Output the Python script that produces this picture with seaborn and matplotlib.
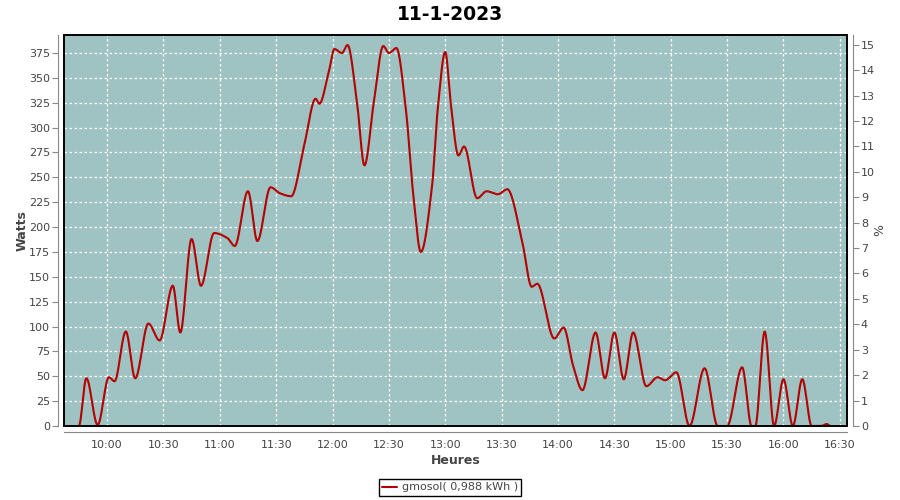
import numpy as np
import pandas as pd
import seaborn as sns
import matplotlib.pyplot as plt
from matplotlib.patches import Rectangle

# relevés (heure, puissance en W)
heures = ['09:45', '09:49', '09:55', '10:01', '10:04', '10:10', '10:15', '10:22', '10:28',
          '10:35', '10:39', '10:45', '10:50', '10:57', '11:04', '11:08', '11:15', '11:20',
          '11:27', '11:32', '11:38', '11:45', '11:51', '11:53', '11:58', '12:01', '12:05',
          '12:08', '12:13', '12:17', '12:22', '12:27', '12:30', '12:34', '12:39', '12:43',
          '12:47', '12:53', '12:56', '13:00', '13:03', '13:07', '13:10', '13:17', '13:22',
          '13:28', '13:33', '13:41', '13:46', '13:49', '13:58', '14:03', '14:08',
          '14:13', '14:20', '14:25', '14:30', '14:35', '14:40', '14:47', '14:53', '14:57',
          '15:03', '15:10', '15:18', '15:25', '15:30', '15:38', '15:43', '15:45', '15:50',
          '15:55', '16:00', '16:05', '16:10', '16:15', '16:20', '16:23', '16:25']
watts = [0, 48, 1, 49, 45, 95, 48, 103, 86,
         141, 94, 188, 141, 194, 189, 181, 236, 186,
         240, 234, 231, 283, 329, 324, 356, 379, 375,
         383, 326, 262, 326, 382, 375, 380, 319, 232,
         175, 242, 319, 376, 323, 272, 281, 229, 236,
         233, 238, 185, 140, 143, 88, 99, 61,
         36, 94, 48, 94, 47, 94, 40, 49, 46,
         54, 0, 58, 0, 0, 59, 0, 0, 95,
         0, 47, 0, 47, 0, 0, 2, 0]

x_labels = ['10:00', '10:30', '11:00', '11:30', '12:00', '12:30', '13:00',
            '13:30', '14:00', '14:30', '15:00', '15:30', '16:00', '16:30']
titre = '11-1-2023'
serie = 'gmosol( 0,988 kWh )'


def minutes(hhmm):
    h, m = hhmm.split(':')
    return (int(h) - 10) * 60 + int(m)


def pchip(x, y, xs):
    # courbe lissée (sans dépassement) comme le rendu "spline" d'origine
    x = np.asarray(x, float)
    y = np.asarray(y, float)
    h = np.diff(x)
    d = np.diff(y) / h
    m = np.zeros_like(y)
    for k in range(1, len(x) - 1):
        if d[k - 1] * d[k] > 0:
            w1 = 2 * h[k] + h[k - 1]
            w2 = h[k] + 2 * h[k - 1]
            m[k] = (w1 + w2) / (w1 / d[k - 1] + w2 / d[k])
    m[0], m[-1] = 0, 0
    i = np.clip(np.searchsorted(x, xs) - 1, 0, len(x) - 2)
    t = (xs - x[i]) / h[i]
    h00 = 2 * t**3 - 3 * t**2 + 1
    h10 = t**3 - 2 * t**2 + t
    h01 = -2 * t**3 + 3 * t**2
    h11 = t**3 - t**2
    return h00 * y[i] + h10 * h[i] * m[i] + h01 * y[i + 1] + h11 * h[i] * m[i + 1]


t = np.array([minutes(s) for s in heures], float)
ts = np.linspace(t[0], t[-1], 2000)
df = pd.DataFrame({'t': ts, 'w': pchip(t, watts, ts)})

sns.set_style('white')
plt.rcParams['font.family'] = ['DejaVu Sans']
gris = '#444444'

fig = plt.figure(figsize=(9, 5), dpi=100)
ax = fig.add_axes([64 / 900, 74 / 500, 783 / 900, 391 / 500])
ax.set_facecolor('#9fc3c2')

sns.lineplot(data=df, x='t', y='w', ax=ax, color='#b40000', linewidth=1.5, label=serie)

ax.set_xlim(-22.9, 393.8)
ax.set_ylim(0, 393.1)
ax.set_xticks(np.arange(0, 391, 30))
ax.set_xticklabels(x_labels)
ax.set_yticks(np.arange(0, 376, 25))
ax.set_axisbelow(True)
ax.grid(True, color='white', linestyle=(0, (2, 2)), linewidth=0.9)

for s in ['top', 'right']:
    ax.spines[s].set_visible(False)
for s in ['left', 'bottom']:
    ax.spines[s].set_position(('outward', 4))
    ax.spines[s].set_color('#888888')
ax.tick_params(axis='both', colors='#888888', labelcolor=gris, labelsize=8, length=4, pad=2)
ax.add_patch(Rectangle((0, 0), 1, 1, transform=ax.transAxes, fill=False,
                       edgecolor='black', linewidth=1.4, clip_on=False, zorder=10))

ax.set_xlabel('Heures', fontsize=9, fontweight='bold', color=gris)
ax.set_ylabel('Watts', fontsize=9, fontweight='bold', color=gris)
ax.xaxis.set_label_coords(0.5, -0.087)
ax.xaxis.label.set_va('center')
ax.yaxis.set_label_coords(-0.0536, 0.5)
ax.yaxis.label.set_va('center')

# axe de droite (%)
ax2 = ax.twinx()
ax2.set_ylim(0, 15.38)
ax2.set_yticks(range(0, 16))
for s in ['top', 'left', 'bottom']:
    ax2.spines[s].set_visible(False)
ax2.spines['right'].set_position(('outward', 4))
ax2.spines['right'].set_color('#888888')
ax2.tick_params(axis='y', colors='#888888', labelcolor=gris, labelsize=8, length=4, pad=2)
ax2.set_ylabel('%', fontsize=9, color=gris, rotation=90)
ax2.yaxis.set_label_coords(1.042, 0.5)
ax2.yaxis.label.set_va('center')

fig.text(0.5, 1 - 14 / 500, titre, ha='center', va='center',
         fontsize=13.5, fontweight='bold', color='black')

handles, labels = ax.get_legend_handles_labels()
ax.get_legend().remove()
leg = fig.legend(handles, labels, loc='center', bbox_to_anchor=(0.5, 1 - 487.5 / 500),
                 fontsize=8, handlelength=1.4, handletextpad=0.4, borderpad=0.3,
                 fancybox=False, framealpha=1, edgecolor='black')
for txt in leg.get_texts():
    txt.set_color(gris)
leg.get_frame().set_linewidth(1.0)

fig.savefig('out.png', dpi=100)
